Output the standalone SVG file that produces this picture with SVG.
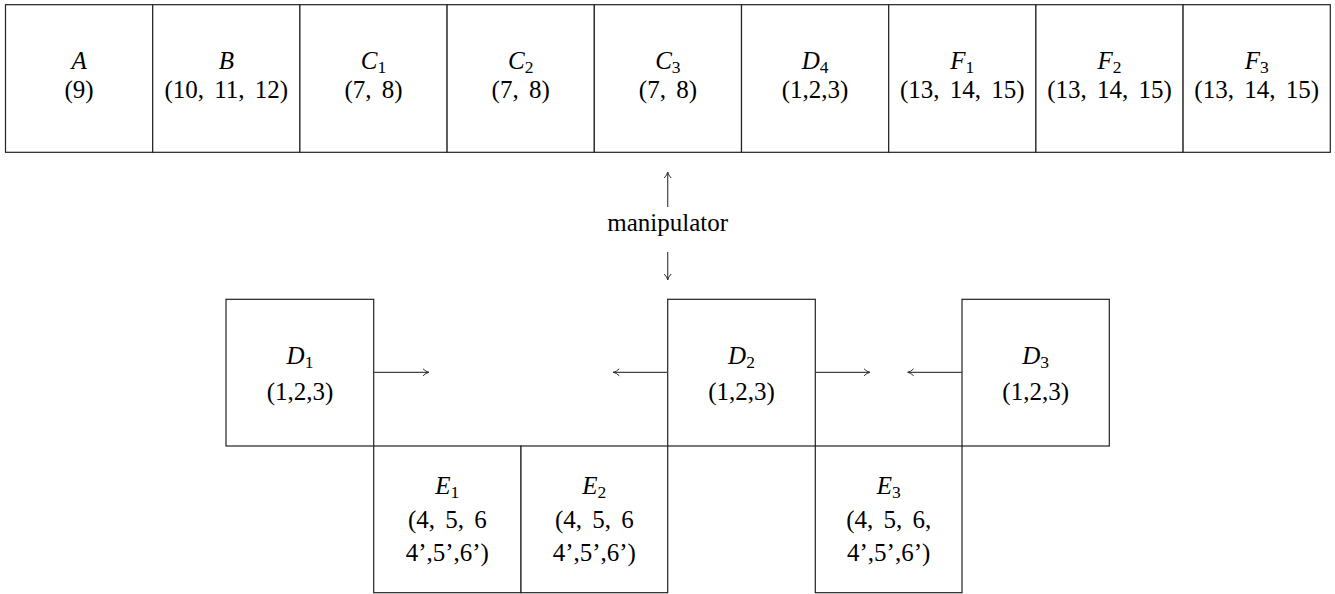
<svg xmlns="http://www.w3.org/2000/svg" width="1335" height="594" viewBox="0 0 1335 594">
<style>
rect.box{fill:#fff;stroke:#222;stroke-width:1.2}
text{font-family:'Liberation Serif','Times New Roman',serif;font-size:25px;fill:#000;text-anchor:middle;word-spacing:4px}
.it{font-style:italic}
.sub{font-size:17.5px;font-style:normal}
.ns{word-spacing:0}
line.con{stroke:#444;stroke-width:1.2}
</style>
<defs>
<marker id="ah" viewBox="0 0 10 10" refX="9" refY="5" markerWidth="10" markerHeight="10" markerUnits="userSpaceOnUse" orient="auto">
<path d="M3,1.5 Q6,4.5 9,5 Q6,5.5 3,8.5" fill="none" stroke="#333" stroke-width="1"/>
</marker>
</defs>
<rect width="1335" height="594" fill="#fff"/>
<g id="A"><rect class="box" x="5.5" y="4.7" width="147.2" height="147.6"/><text x="79.1" y="69"><tspan class="it">A</tspan></text><text x="79.1" y="98">(9)</text></g>
<g id="B"><rect class="box" x="152.7" y="4.7" width="147.2" height="147.6"/><text x="226.3" y="69"><tspan class="it">B</tspan></text><text x="226.3" y="98">(10, 11, 12)</text></g>
<g id="C1"><rect class="box" x="299.9" y="4.7" width="147.2" height="147.6"/><text x="373.5" y="69"><tspan class="it">C</tspan><tspan class="sub" dy="4">1</tspan></text><text x="373.5" y="98">(7, 8)</text></g>
<g id="C2"><rect class="box" x="447.1" y="4.7" width="147.2" height="147.6"/><text x="520.7" y="69"><tspan class="it">C</tspan><tspan class="sub" dy="4">2</tspan></text><text x="520.7" y="98">(7, 8)</text></g>
<g id="C3"><rect class="box" x="594.3" y="4.7" width="147.2" height="147.6"/><text x="667.9" y="69"><tspan class="it">C</tspan><tspan class="sub" dy="4">3</tspan></text><text x="667.9" y="98">(7, 8)</text></g>
<g id="D4"><rect class="box" x="741.5" y="4.7" width="147.2" height="147.6"/><text x="815.1" y="69"><tspan class="it">D</tspan><tspan class="sub" dy="4">4</tspan></text><text class="ns" x="815.1" y="98">(1,2,3)</text></g>
<g id="F1"><rect class="box" x="888.7" y="4.7" width="147.2" height="147.6"/><text x="962.3" y="69"><tspan class="it">F</tspan><tspan class="sub" dy="4">1</tspan></text><text x="962.3" y="98">(13, 14, 15)</text></g>
<g id="F2"><rect class="box" x="1035.9" y="4.7" width="147.2" height="147.6"/><text x="1109.5" y="69"><tspan class="it">F</tspan><tspan class="sub" dy="4">2</tspan></text><text x="1109.5" y="98">(13, 14, 15)</text></g>
<g id="F3"><rect class="box" x="1183.1" y="4.7" width="147.2" height="147.6"/><text x="1256.7" y="69"><tspan class="it">F</tspan><tspan class="sub" dy="4">3</tspan></text><text x="1256.7" y="98">(13, 14, 15)</text></g>

<g id="manipulator"><text x="667.7" y="231">manipulator</text></g>

<g id="D1"><rect class="box" x="226" y="299.3" width="147.7" height="146.7"/><text x="300" y="364"><tspan class="it">D</tspan><tspan class="sub" dy="4">1</tspan></text><text class="ns" x="300" y="400">(1,2,3)</text></g>
<g id="D2"><rect class="box" x="667.7" y="299.3" width="147.6" height="146.7"/><text x="741.5" y="364"><tspan class="it">D</tspan><tspan class="sub" dy="4">2</tspan></text><text class="ns" x="741.5" y="400">(1,2,3)</text></g>
<g id="D3"><rect class="box" x="962" y="299.3" width="147.3" height="146.7"/><text x="1035.7" y="364"><tspan class="it">D</tspan><tspan class="sub" dy="4">3</tspan></text><text class="ns" x="1035.7" y="400">(1,2,3)</text></g>
<g id="E1"><rect class="box" x="373.7" y="446" width="147.3" height="146.7"/><text x="447.3" y="494"><tspan class="it">E</tspan><tspan class="sub" dy="4">1</tspan></text><text x="447.3" y="528">(4, 5, 6</text><text class="ns" x="447.3" y="561">4’,5’,6’)</text></g>
<g id="E2"><rect class="box" x="521" y="446" width="146.7" height="146.7"/><text x="594.3" y="494"><tspan class="it">E</tspan><tspan class="sub" dy="4">2</tspan></text><text x="594.3" y="528">(4, 5, 6</text><text class="ns" x="594.3" y="561">4’,5’,6’)</text></g>
<g id="E3"><rect class="box" x="815.3" y="446" width="146.7" height="146.7"/><text x="888.7" y="494"><tspan class="it">E</tspan><tspan class="sub" dy="4">3</tspan></text><text x="888.7" y="528">(4, 5, 6,</text><text class="ns" x="888.7" y="561">4’,5’,6’)</text></g>

<g id="connectors">
<line class="con" x1="667.7" y1="207" x2="667.7" y2="172" marker-end="url(#ah)"/>
<line class="con" x1="667.7" y1="252" x2="667.7" y2="280" marker-end="url(#ah)"/>
<line class="con" x1="373.7" y1="372.3" x2="429" y2="372.3" marker-end="url(#ah)"/>
<line class="con" x1="667.7" y1="372.3" x2="613.3" y2="372.3" marker-end="url(#ah)"/>
<line class="con" x1="815.3" y1="372.3" x2="870" y2="372.3" marker-end="url(#ah)"/>
<line class="con" x1="962" y1="372.3" x2="907.7" y2="372.3" marker-end="url(#ah)"/>
</g>
</svg>
